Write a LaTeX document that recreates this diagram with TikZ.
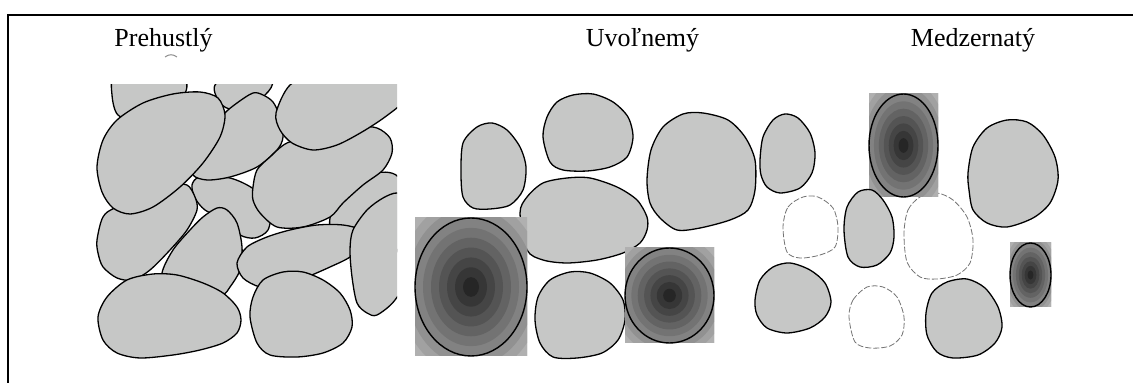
\documentclass[tikz,border=0pt]{standalone}
\usepackage{fontspec}
\setmainfont{Liberation Serif}
\definecolor{stone}{HTML}{C6C7C6}
\begin{document}
\begin{tikzpicture}[x=0.5pt,y=-0.5pt,
    pebble/.style={draw=black,fill=stone,line width=0.65pt},
    hollow/.style={draw=black!55,line width=0.4pt,dash pattern=on 3pt off 1pt},
    title/.style={anchor=base,font=\fontsize{13}{15}\selectfont}]
  \useasboundingbox (0,0) rectangle (1133,383);
  \draw [line width=1pt] (8,390) -- (8,15) -- (1140,15);

  \node [title] (dense) at (163.5,47) {Prehustlý};
  \node [title] (loose) at (642.5,47) {Uvoľnemý};
  \node [title] (gappy) at (973,47) {Medzernatý};
  \draw [black!45, line width=0.5pt] (165,57) .. controls (169,54) and (173,54) .. (177,57);

  % packed grains
  \begin{scope}
    \clip (80,85) rectangle (397,375);
    \draw [pebble] plot [smooth cycle] coordinates {(112,95) (118,115) (140,120) (180,100) (185,80) (150,65) (115,75)};
    \draw [pebble] plot [smooth cycle] coordinates {(215,85) (222,105) (240,110) (265,95) (272,80) (245,65)};
    \draw [pebble] plot [smooth cycle] coordinates {(330,218) (345,190) (375,173) (400,180) (400,240) (390,258) (360,262) (335,245)};
    \draw [pebble] plot [smooth cycle] coordinates {(192,185) (200,177) (230,178) (255,190) (270,210) (268,230) (255,238) (240,235) (225,220) (205,210) (195,198)};
    \draw [pebble] plot [smooth cycle] coordinates {(223,115) (237,103) (253,93) (263,95) (273,102) (280,117) (283,137) (277,150) (257,167) (230,177) (207,180) (193,175) (195,160) (205,140)};
    \draw [pebble] plot [smooth cycle] coordinates {(97,240) (103,217) (117,207) (170,187) (187,185) (195,197) (197,210) (187,230) (170,250) (150,270) (133,280) (117,278) (103,267) (98,253)};
    \draw [pebble] plot [smooth cycle] coordinates {(97,167) (103,140) (117,120) (143,103) (173,94) (200,92) (218,98) (225,115) (220,137) (203,163) (180,187) (153,207) (130,214) (113,208) (102,192)};
    \draw [pebble] plot [smooth cycle] coordinates {(162,273) (173,250) (190,230) (203,217) (217,208) (227,210) (237,223) (242,247) (240,270) (230,287) (222,295) (195,300) (165,295)};
    \draw [pebble] plot [smooth cycle] coordinates {(253,187) (257,170) (270,157) (287,143) (317,135) (357,127) (377,128) (390,138) (392,153) (383,170) (363,185) (343,203) (330,217) (303,227) (277,227) (260,213) (253,200)};
    \draw [pebble] plot [smooth cycle] coordinates {(276,113) (280,130) (292,143) (313,150) (337,145) (362,132) (385,117) (405,100) (410,80) (370,70) (320,72) (290,85)};
    \draw [pebble] plot [smooth cycle] coordinates {(237,263) (247,247) (267,237) (290,230) (317,225) (343,225) (360,230) (363,243) (350,257) (330,267) (307,277) (280,287) (260,287) (243,278)};
    \draw [pebble] plot [smooth cycle] coordinates {(350,250) (353,230) (367,210) (383,198) (397,193) (410,200) (410,270) (395,300) (377,315) (367,313) (357,303) (352,277)};
    \draw [pebble] plot [smooth cycle] coordinates {(98,317) (107,297) (127,280) (153,274) (177,275) (203,283) (223,293) (237,307) (241,320) (237,333) (223,343) (200,350) (173,355) (140,358) (117,353) (103,340)};
    \draw [pebble] plot [smooth cycle] coordinates {(250,317) (253,297) (263,280) (283,272) (303,272) (323,280) (340,293) (350,310) (352,327) (343,343) (323,353) (297,357) (270,355) (257,343)};
  \end{scope}

  % loose grains
  \draw [pebble] plot [smooth cycle] coordinates {(461,173) (463,143) (477,127) (492,123) (507,130) (520,147) (526,167) (523,190) (510,205) (490,209) (473,208) (463,197)};
  \draw [pebble] plot [smooth cycle] coordinates {(543,137) (547,117) (557,102) (573,95) (593,94) (613,102) (628,117) (633,137) (627,157) (610,167) (587,171) (563,170) (550,162)};
  \draw [pebble] plot [smooth cycle] coordinates {(647,180) (651,150) (663,127) (683,114) (703,113) (728,120) (745,137) (755,160) (755,190) (748,210) (730,220) (700,228) (677,230) (660,218) (650,203)};
  \draw [pebble] plot [smooth cycle] coordinates {(520,213) (527,197) (543,183) (567,178) (590,178) (617,187) (637,200) (647,217) (647,230) (640,243) (623,253) (597,260) (567,263) (543,260) (527,250)};
  \draw [pebble] plot [smooth cycle] coordinates {(535,320) (538,297) (550,280) (570,272) (590,273) (610,283) (623,300) (625,320) (618,340) (602,353) (577,358) (553,357) (540,343)};

  % gappy grains
  \draw [pebble] plot [smooth cycle] coordinates {(760,160) (763,137) (773,120) (785,114) (798,118) (810,133) (815,153) (812,173) (800,188) (780,193) (767,187) (761,175)};
  \draw [pebble] plot [smooth cycle] coordinates {(968,173) (973,147) (987,128) (1007,120) (1027,122) (1043,135) (1055,157) (1058,180) (1050,203) (1033,218) (1007,227) (987,223) (973,210) (969,190)};
  \draw [pebble] plot [smooth cycle] coordinates {(755,300) (760,280) (773,267) (790,263) (810,270) (825,283) (831,302) (825,317) (810,328) (787,333) (767,328) (757,315)};
  \draw [pebble] plot [smooth cycle] coordinates {(926,313) (932,293) (947,282) (967,279) (985,288) (998,307) (1002,327) (995,343) (978,355) (953,358) (937,352) (927,335)};
  \draw [hollow] plot [smooth cycle] coordinates {(783,227) (788,207) (803,197) (818,197) (833,208) (838,227) (835,247) (820,255) (800,258) (787,252)};
  \draw [hollow] plot [smooth cycle] coordinates {(904,233) (908,210) (920,197) (937,193) (953,200) (967,217) (973,240) (970,263) (957,275) (937,279) (920,277) (907,262)};
  \draw [hollow] plot [smooth cycle] coordinates {(849,317) (853,300) (867,287) (883,287) (897,297) (904,317) (902,335) (890,346) (870,348) (855,342)};

  % shaded grains
  \foreach \cx/\cy/\rx/\ry in {471/287/56/69, 669.5/295.5/44.5/47.5, 903.5/145.5/34.5/51.5, 1030.5/275/20.5/32} {
    \begin{scope}
      \clip (\cx-\rx,\cy-\ry) rectangle (\cx+\rx,\cy+\ry);
      \foreach \i [evaluate=\i as \shade using 85-6*(\i-1)] in {12,...,1}
        \fill [black!\shade] (\cx,\cy) ellipse [x radius=\i*\rx/7, y radius=\i*\ry/7];
    \end{scope}
    \draw [line width=0.7pt] (\cx,\cy) ellipse [x radius=\rx, y radius=\ry];
  }
  \draw [pebble] plot [smooth cycle] coordinates {(844,230) (847,207) (858,192) (872,190) (883,200) (892,217) (894,237) (890,253) (877,265) (860,267) (848,257)};
\end{tikzpicture}
\end{document}
